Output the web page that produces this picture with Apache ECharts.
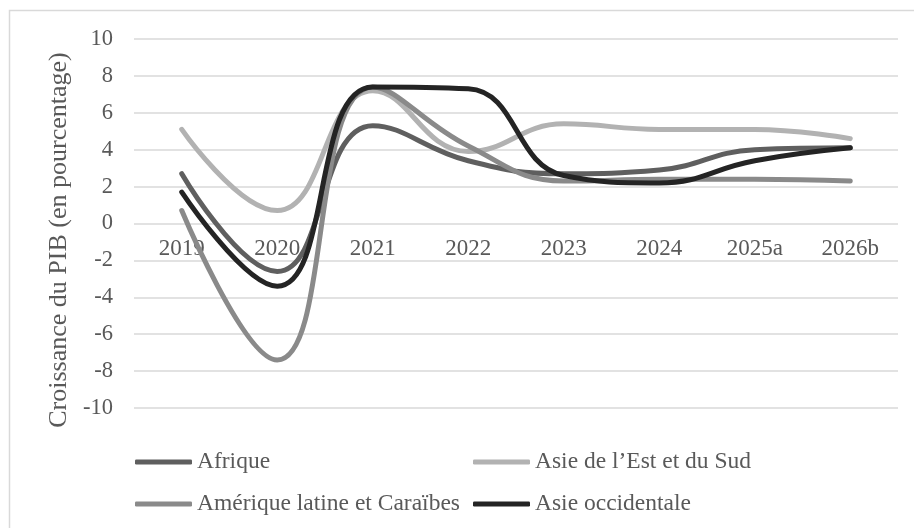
<!DOCTYPE html>
<html>
<head>
<meta charset="utf-8">
<script src="https://cdn.jsdelivr.net/npm/echarts@6/dist/echarts.min.js"></script>
<style>html,body{margin:0;padding:0;background:#fff;}#c{width:914px;height:528px;}</style>
</head>
<body>
<div id="c"></div>
<script>
const categories = ['2019', '2020', '2021', '2022', '2023', '2024', '2025a', '2026b'];
const afrique = [2.7, -2.6, 5.3, 3.4, 2.7, 2.9, 4.0, 4.1];
const asieEstSud = [5.1, 0.7, 7.2, 3.9, 5.4, 5.1, 5.1, 4.6];
const ameriqueLatine = [0.7, -7.4, 7.4, 4.2, 2.3, 2.4, 2.4, 2.3];
const asieOccidentale = [1.7, -3.4, 7.4, 7.3, 2.6, 2.2, 3.4, 4.1];
const yTicks = { min: -10, max: 10, interval: 2 };
const yTitle = 'Croissance du PIB (en pourcentage)';

const FONT = 'Liberation Serif';
const TXT = '#595959';
const names = ['Afrique', 'Asie de l\u2019Est et du Sud', 'Amérique latine et Caraïbes', 'Asie occidentale'];
const colors = ['#5f5f5f', '#b2b2b2', '#8a8a8a', '#242424'];
const datasets = [afrique, asieEstSud, ameriqueLatine, asieOccidentale];

const chart = echarts.init(document.getElementById('c'), null, { renderer: 'canvas' });
const legendCommon = {
  orient: 'vertical',
  top: 450,
  padding: 0,
  itemWidth: 57,
  itemHeight: 5,
  itemGap: 18,
  icon: 'roundRect',
  textStyle: { fontFamily: FONT, fontSize: 23.5, lineHeight: 24, color: TXT }
};
chart.setOption({
  animation: false,
  backgroundColor: '#fff',
  textStyle: { fontFamily: FONT },
  graphic: [{
    type: 'rect', silent: true,
    shape: { x: 9.5, y: 10.5, width: 2000, height: 2000 },
    style: { fill: 'none', stroke: '#d9d9d9', lineWidth: 1.5 }
  }],
  grid: { left: 134, right: 16, top: 39, bottom: 120 },
  legend: [
    Object.assign({ left: 135, data: [names[0], names[2]] }, legendCommon),
    Object.assign({ left: 473, data: [names[1], names[3]] }, legendCommon)
  ],
  xAxis: {
    type: 'category',
    data: categories,
    boundaryGap: true,
    position: 'bottom',
    offset: -184,
    axisLine: { show: false, onZero: false },
    axisTick: { show: false },
    axisLabel: { fontFamily: FONT, fontSize: 23, color: TXT, margin: 13 }
  },
  yAxis: {
    type: 'value',
    min: yTicks.min, max: yTicks.max, interval: yTicks.interval,
    name: yTitle,
    nameLocation: 'middle',
    nameGap: 59,
    nameTextStyle: { fontFamily: FONT, fontSize: 26, color: TXT, padding: [0, 33, 0, 0] },
    axisLine: { show: false },
    axisTick: { show: false },
    axisLabel: { fontFamily: FONT, fontSize: 22.5, color: TXT, margin: 21 },
    splitLine: { lineStyle: { color: '#d9d9d9', width: 1.5 } }
  },
  series: datasets.map((d, i) => ({
    name: names[i],
    type: 'line',
    data: d,
    smooth: 0.45,
    symbol: 'none',
    lineStyle: { width: 5, color: colors[i], cap: 'round', join: 'round' },
    itemStyle: { color: colors[i] },
    z: 2 + i
  }))
});
</script>
</body>
</html>
